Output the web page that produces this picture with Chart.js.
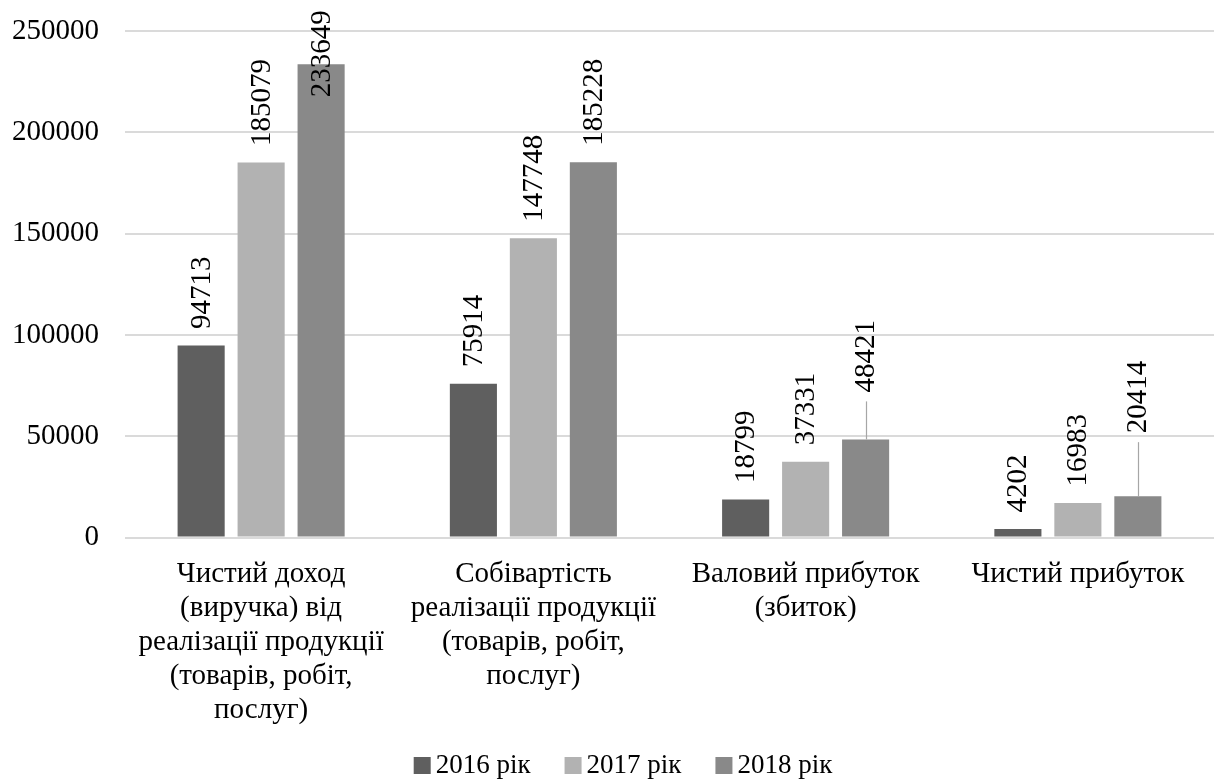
<!DOCTYPE html>
<html>
<head>
<meta charset="utf-8">
<script src="https://cdn.jsdelivr.net/npm/chart.js@4/dist/chart.umd.min.js"></script>
<style>
  html, body { margin: 0; padding: 0; background: #ffffff; }
  canvas { display: block; }
</style>
</head>
<body>
<canvas id="chart" width="1214" height="782"></canvas>
<script>
// Categories (multi-line axis labels)
const categories = [
  ['Чистий доход', '(виручка) від', 'реалізації продукції', '(товарів, робіт,', 'послуг)'],
  ['Собівартість', 'реалізації продукції', '(товарів, робіт,', 'послуг)'],
  ['Валовий прибуток', '(збиток)'],
  ['Чистий прибуток']
];

// Series
const seriesNames = ['2016 рік', '2017 рік', '2018 рік'];
const values2016 = [94713, 75914, 18799, 4202];
const values2017 = [185079, 147748, 37331, 16983];
const values2018 = [233649, 185228, 48421, 20414];

// Value axis
const yMin = 0;
const yMax = 250000;
const yStep = 50000;

// Look
const seriesColors = ['#5f5f5f', '#b2b2b2', '#898989'];
const FONT = '"Liberation Serif", "Times New Roman", serif';

// Value labels that sit away from their default place above the bar
// (lift = distance in px from bar top to start of the label text)
const defaultLift = 16.5;
const labelLifts = [
  { series: 2, index: 0, lift: -33, leader: false },
  { series: 2, index: 2, lift: 47, leader: true },
  { series: 2, index: 3, lift: 63, leader: true }
];

const valueLabels = {
  id: 'valueLabels',
  afterDatasetsDraw(chart) {
    const ctx = chart.ctx;
    ctx.save();
    ctx.font = '29px ' + FONT;
    ctx.fillStyle = '#000000';
    ctx.textAlign = 'left';
    ctx.textBaseline = 'middle';
    chart.data.datasets.forEach((ds, si) => {
      const meta = chart.getDatasetMeta(si);
      meta.data.forEach((bar, i) => {
        const custom = labelLifts.find(l => l.series === si && l.index === i);
        const lift = custom ? custom.lift : defaultLift;
        const x = bar.x;
        const yStart = bar.y - lift;
        if (custom && custom.leader) {
          ctx.save();
          ctx.strokeStyle = '#a6a6a6';
          ctx.lineWidth = 1.2;
          ctx.beginPath();
          ctx.moveTo(Math.round(x) + 0.5, bar.y);
          ctx.lineTo(Math.round(x) + 0.5, yStart + 9);
          ctx.stroke();
          ctx.restore();
        }
        ctx.save();
        ctx.translate(x, yStart);
        ctx.rotate(-Math.PI / 2);
        ctx.fillText(String(ds.data[i]), 0, 1);
        ctx.restore();
      });
    });
    ctx.restore();
  }
};

// Legend row under the axis labels
const legendRow = {
  id: 'legendRow',
  afterDraw(chart) {
    const ctx = chart.ctx;
    ctx.save();
    ctx.font = '27px ' + FONT;
    ctx.fillStyle = '#000000';
    ctx.textBaseline = 'alphabetic';
    ctx.textAlign = 'left';
    const box = 17, boxGap = 5, itemGap = 34;
    const items = chart.data.datasets.map(ds => ({
      label: ds.label, color: ds.backgroundColor, w: ctx.measureText(ds.label).width
    }));
    const total = items.reduce((s, it) => s + box + boxGap + it.w, 0) + itemGap * (items.length - 1);
    let x = chart.width / 2 + 16 - total / 2;
    const baseline = 773;
    items.forEach(it => {
      ctx.fillStyle = it.color;
      ctx.fillRect(x, baseline - 16, box, box);
      ctx.fillStyle = '#000000';
      ctx.fillText(it.label, x + box + boxGap, baseline);
      x += box + boxGap + it.w + itemGap;
    });
    ctx.restore();
  }
};

new Chart(document.getElementById('chart'), {
  type: 'bar',
  data: {
    labels: categories,
    datasets: [
      { label: seriesNames[0], data: values2016, backgroundColor: seriesColors[0] },
      { label: seriesNames[1], data: values2017, backgroundColor: seriesColors[1] },
      { label: seriesNames[2], data: values2018, backgroundColor: seriesColors[2] }
    ]
  },
  options: {
    responsive: false,
    animation: false,
    devicePixelRatio: 1,
    layout: { padding: { left: 12, top: 31, right: 0, bottom: 54.5 } },
    datasets: {
      bar: { categoryPercentage: 0.661, barPercentage: 0.785 }
    },
    plugins: {
      legend: { display: false },
      tooltip: { enabled: false }
    },
    scales: {
      x: {
        grid: { display: false, drawTicks: false },
        border: { display: false },
        ticks: {
          color: '#000000',
          padding: 19.5,
          maxRotation: 0,
          autoSkip: false,
          font: { family: FONT, size: 29, lineHeight: 34 / 29 }
        },
        afterFit(scale) { scale.height = 190; }
      },
      y: {
        min: yMin,
        max: yMax,
        grid: { color: '#dadada', lineWidth: 2, drawTicks: false },
        border: { display: false },
        ticks: {
          stepSize: yStep,
          color: '#000000',
          padding: 26,
          font: { family: FONT, size: 29 },
          callback: (value) => String(value)
        },
        afterFit(scale) {
          scale.width = 113;
          scale.paddingTop = 0;
          scale.paddingBottom = 0;
        }
      }
    }
  },
  plugins: [valueLabels, legendRow]
});
</script>
</body>
</html>
